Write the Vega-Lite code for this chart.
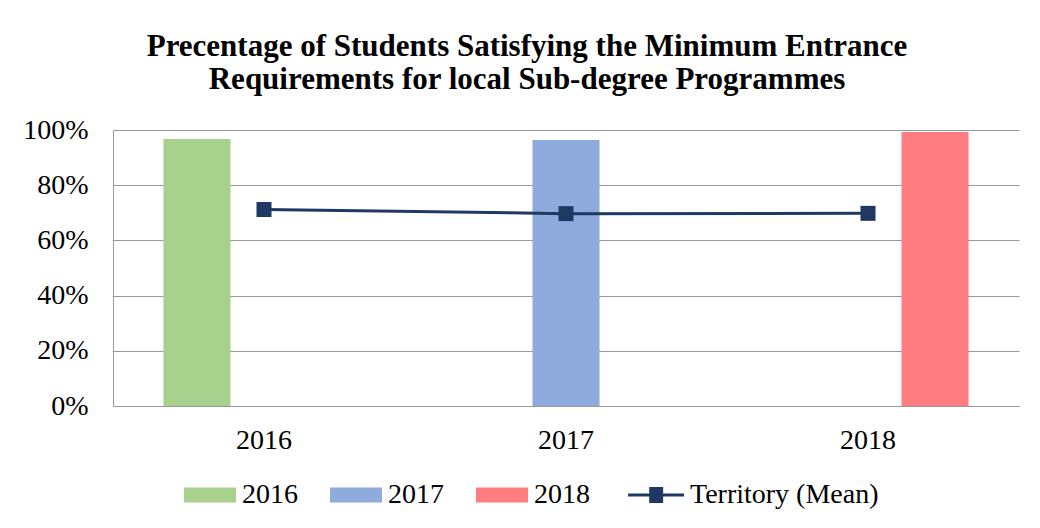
{
  "$schema": "https://vega.github.io/schema/vega-lite/v6.json",
  "width": 906,
  "height": 276,
  "autosize": "none",
  "padding": {"left": 113, "top": 130, "right": 21, "bottom": 122},
  "background": "white",
  "config": {
    "font": "Liberation Serif",
    "view": {"stroke": null},
    "axis": {"labelFont": "Liberation Serif", "labelFontSize": 28, "labelColor": "#000000", "domainColor": "#999999", "gridColor": "#999999", "ticks": false, "tickSize": 0, "title": null},
    "legend": {"labelFont": "Liberation Serif", "labelFontSize": 28, "labelColor": "#000000", "padding": 0, "labelLimit": 400}
  },
  "title": {
    "text": ["Precentage of Students Satisfying the Minimum Entrance", "Requirements for local Sub-degree Programmes"],
    "font": "Liberation Serif",
    "fontSize": 31,
    "fontWeight": "bold",
    "color": "#000000",
    "anchor": "middle",
    "dx": -39,
    "lineHeight": 33,
    "offset": 20
  },
  "layer": [
    {
      "data": {"values": [
        {"year": "2016", "series": "2016", "pct": 0.967},
        {"year": "2017", "series": "2017", "pct": 0.964},
        {"year": "2018", "series": "2018", "pct": 0.993}
      ]},
      "mark": {"type": "bar"},
      "encoding": {
        "x": {"field": "year", "type": "nominal", "scale": {"domain": ["2016", "2017", "2018"], "paddingInner": 0.334, "paddingOuter": 0.167},
              "axis": {"labelAngle": 0, "labelPadding": 20, "grid": false, "domain": true}},
        "xOffset": {"field": "series", "type": "nominal", "scale": {"domain": ["2016", "2017", "2018"], "paddingInner": 0, "paddingOuter": 0}},
        "y": {"field": "pct", "type": "quantitative", "scale": {"domain": [0, 1], "nice": false},
              "axis": {"values": [0, 0.2, 0.4, 0.6, 0.8, 1], "format": ".0%", "labelPadding": 25, "grid": true, "domain": true}},
        "color": {"field": "series", "type": "nominal",
                  "scale": {"domain": ["2016", "2017", "2018", "Territory (Mean)"], "range": ["#A9D18E", "#8FAADC", "#FF7C80", "#1F3864"]},
                  "legend": {"title": null, "orient": "none", "direction": "horizontal", "legendX": 83, "legendY": 351,
                             "symbolSize": 2704, "labelOffset": 18, "columnPadding": 32,
                             "encode": {"symbols": {"update": {
                               "shape": {"signal": "datum.value === 'Territory (Mean)' ? 'M-1.15,0H1.0M-0.28,-0.25H0.14V0.25H-0.28Z' : 'M-1,-0.29H1V0.29H-1Z'"},
                               "stroke": {"signal": "datum.value === 'Territory (Mean)' ? '#1F3864' : 'transparent'"},
                               "strokeWidth": {"signal": "datum.value === 'Territory (Mean)' ? 3 : 0"},
                               "fill": {"scale": "color", "field": "value"},
                               "opacity": {"value": 1},
                               "fillOpacity": {"value": 1}
                             }}}}}
      }
    },
    {
      "data": {"values": [
        {"year": "2016", "mean": 0.712},
        {"year": "2017", "mean": 0.697},
        {"year": "2018", "mean": 0.698}
      ]},
      "mark": {"type": "line", "strokeWidth": 3, "point": {"shape": "square", "size": 225, "filled": true, "opacity": 1}},
      "encoding": {
        "x": {"field": "year", "type": "nominal"},
        "y": {"field": "mean", "type": "quantitative"},
        "color": {"datum": "Territory (Mean)"}
      }
    }
  ]
}
